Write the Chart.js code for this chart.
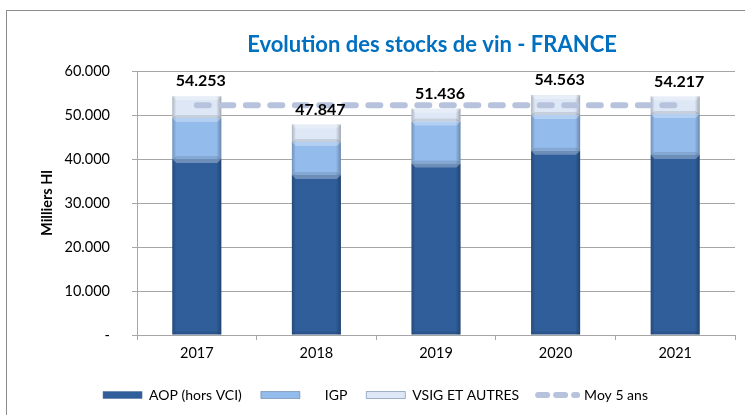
<!DOCTYPE html>
<html>
<head>
<meta charset="utf-8">
<script src="https://cdn.jsdelivr.net/npm/chart.js@4"></script>
<style>
  html, body { margin: 0; padding: 0; background: #fff; }
  #wrap { width: 745px; height: 415px; }
</style>
</head>
<body>
<div id="wrap"><canvas id="stockChart" width="745" height="415"></canvas></div>
<script>
// --- DATA (milliers hl) ---
const years = ['2017', '2018', '2019', '2020', '2021'];
const aop = [40000, 36360, 39000, 41900, 40900];
const igp = [9300, 7500, 9500, 8100, 9300];
const vsig = [4953, 3987, 2936, 4563, 4017];
const totals = [54253, 47847, 51436, 54563, 54217];
const moy5 = [52200, 52200, 52200, 52200, 52200];
const yTicks = [0, 10000, 20000, 30000, 40000, 50000, 60000];

const FONT = 'Lato, "Open Sans", sans-serif';
const PLOT_BOTTOM = 335;

function fmt(v) {
    if (v === 0) return '-';
    return String(Math.round(v)).replace(/\B(?=(\d{3})+(?!\d))/g, '.');
}

// frame, title, legend placement
const framePlugin = {
    id: 'frame',
    afterLayout(chart) {
        const lg = chart.legend;
        if (lg) {
            lg.left += 8;
            lg.right += 8;
            const h = lg.height;
            lg.top = 369;
            lg.bottom = lg.top + h;
        }
    },
    beforeDraw(chart) {
        const ctx = chart.ctx;
        ctx.save();
        ctx.fillStyle = '#fff';
        ctx.fillRect(0, 0, chart.width, chart.height);
        ctx.strokeStyle = '#8c8c8c';
        ctx.lineWidth = 1;
        ctx.strokeRect(6.5, 10.5, chart.width + 20, chart.height + 20);
        ctx.restore();
    },
    afterDraw(chart) {
        const ctx = chart.ctx;
        const area = chart.chartArea;
        ctx.save();
        ctx.font = 'bold 22px ' + FONT;
        ctx.fillStyle = '#0070c0';
        ctx.textAlign = 'center';
        ctx.textBaseline = 'middle';
        ctx.fillText('Evolution des stocks de vin - FRANCE', (area.left + area.right) / 2 - 4, 45);
        ctx.restore();
    }
};

// bevel look on each bar segment
const bevelPlugin = {
    id: 'bevel',
    afterDatasetDraw(chart, args) {
        const meta = args.meta;
        if (meta.type !== 'bar') return;
        const ctx = chart.ctx;
        const b = 4;
        ctx.save();
        meta.data.forEach(el => {
            const p = el.getProps(['x', 'y', 'base', 'width'], true);
            const x0 = p.x - p.width / 2, x1 = p.x + p.width / 2;
            const top = Math.min(p.y, p.base), bot = Math.max(p.y, p.base);
            if (bot - top < 2) return;
            let g = ctx.createLinearGradient(x0, 0, x0 + b, 0);
            g.addColorStop(0, 'rgba(0,0,0,0.22)');
            g.addColorStop(1, 'rgba(0,0,0,0)');
            ctx.fillStyle = g;
            ctx.fillRect(x0, top, b, bot - top);
            g = ctx.createLinearGradient(x1 - b - 1, 0, x1, 0);
            g.addColorStop(0, 'rgba(0,0,0,0)');
            g.addColorStop(1, 'rgba(0,0,0,0.28)');
            ctx.fillStyle = g;
            ctx.fillRect(x1 - b - 1, top, b + 1, bot - top);
            // top highlight
            ctx.fillStyle = 'rgba(255,255,255,0.3)';
            ctx.beginPath();
            ctx.moveTo(x0, top); ctx.lineTo(x1, top);
            ctx.lineTo(x1 - b, top + b); ctx.lineTo(x0 + b, top + b);
            ctx.closePath(); ctx.fill();
            // bottom shade
            ctx.fillStyle = 'rgba(0,0,0,0.1)';
            ctx.beginPath();
            ctx.moveTo(x0, bot); ctx.lineTo(x1, bot);
            ctx.lineTo(x1 - b, bot - b + 1); ctx.lineTo(x0 + b, bot - b + 1);
            ctx.closePath(); ctx.fill();
        });
        ctx.restore();
    }
};

// totals above the stacks
const totalsPlugin = {
    id: 'totals',
    afterDatasetsDraw(chart) {
        const ctx = chart.ctx;
        const meta = chart.getDatasetMeta(2);
        ctx.save();
        ctx.font = 'bold 16px ' + FONT;
        ctx.fillStyle = '#000';
        ctx.textAlign = 'center';
        ctx.textBaseline = 'middle';
        meta.data.forEach((el, i) => {
            ctx.fillText(fmt(totals[i]), el.x + 4, el.y - 15);
        });
        ctx.restore();
    }
};

const ctx = document.getElementById('stockChart').getContext('2d');
new Chart(ctx, {
    type: 'bar',
    data: {
        labels: years,
        datasets: [{
            label: 'AOP (hors VCI)',
            data: aop,
            backgroundColor: '#2f5e9b',
            stack: 's',
            order: 1
        }, {
            label: '     IGP',
            data: igp,
            backgroundColor: '#93bbec',
            stack: 's',
            order: 1
        }, {
            label: 'VSIG ET AUTRES',
            data: vsig,
            backgroundColor: '#dde7f5',
            stack: 's',
            order: 1
        }, {
            type: 'line',
            label: 'Moy 5 ans',
            data: moy5,
            borderColor: '#b7c3dc',
            backgroundColor: '#b7c3dc',
            borderWidth: 6,
            borderDash: [12, 12.5],
            borderCapStyle: 'round',
            pointRadius: 0,
            fill: false,
            order: 0
        }]
    },
    options: {
        responsive: false,
        animation: false,
        layout: { padding: { top: 71, right: 10, left: 0, bottom: 0 } },
        datasets: { bar: { categoryPercentage: 1, barPercentage: 0.41 } },
        scales: {
            x: {
                stacked: true,
                grid: { display: true, drawOnChartArea: false, tickLength: 5, color: '#a6a6a6' },
                border: { color: '#a6a6a6' },
                ticks: { color: '#000', font: { family: FONT, size: 14.5 }, padding: 5 },
                afterFit: s => {
                    const lg = s.chart.legend;
                    s.height = s.chart.height - (lg ? lg.height : 0) - PLOT_BOTTOM;
                }
            },
            y: {
                stacked: true,
                min: 0,
                max: 60000,
                afterBuildTicks: s => { s.ticks = yTicks.map(v => ({ value: v })); },
                grid: { color: '#a6a6a6', tickLength: 5 },
                border: { color: '#a6a6a6' },
                ticks: { color: '#000', font: { family: FONT, size: 14.5 }, padding: 22, callback: v => fmt(v) },
                title: { display: true, text: 'Milliers Hl', color: '#000', font: { family: FONT, size: 14.5, weight: 'bold' }, padding: { top: 39, bottom: 0 } },
                afterFit: s => { s.width = 137; }
            }
        },
        plugins: {
            title: { display: false },
            tooltip: { enabled: false },
            legend: {
                position: 'bottom',
                labels: {
                    color: '#000',
                    font: { family: FONT, size: 14 },
                    usePointStyle: true,
                    boxWidth: 39,
                    boxHeight: 7,
                    pointStyleWidth: 39,
                    padding: 19,
                    sort: (a, b) => a.datasetIndex - b.datasetIndex,
                    generateLabels: chart => chart.data.datasets.map((ds, i) => ({
                        text: ds.label,
                        datasetIndex: i,
                        fillStyle: ds.backgroundColor,
                        strokeStyle: ds.type === 'line' ? ds.borderColor : '#4a6d9a',
                        lineWidth: ds.type === 'line' ? 6 : 0.5,
                        lineDash: ds.type === 'line' ? [9, 9] : [],
                        lineCap: ds.type === 'line' ? 'round' : 'butt',
                        pointStyle: ds.type === 'line' ? 'line' : 'rect',
                        fontColor: '#000',
                        hidden: false
                    }))
                }
            }
        }
    },
    plugins: [framePlugin, bevelPlugin, totalsPlugin]
});
</script>
</body>
</html>
